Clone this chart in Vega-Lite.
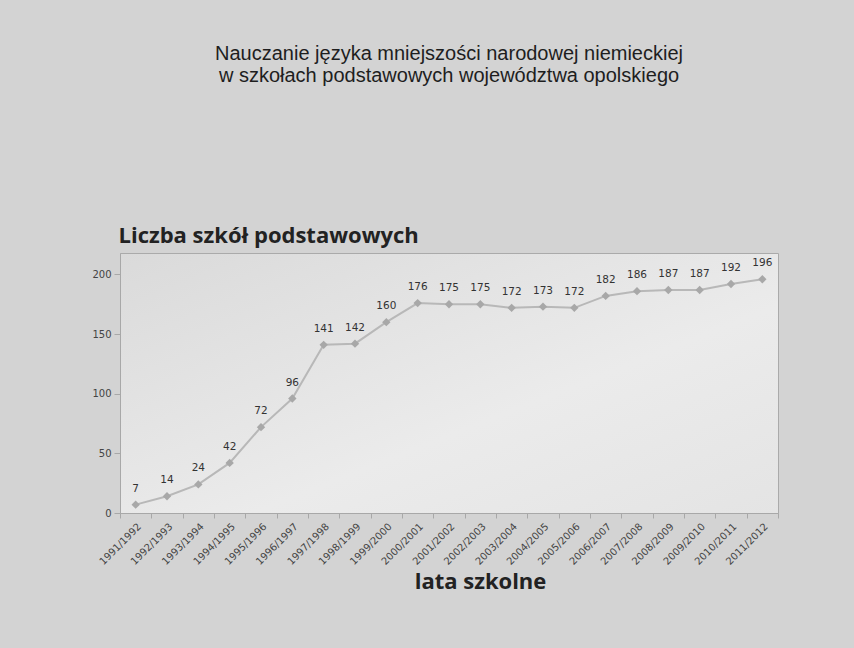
{
  "$schema": "https://vega.github.io/schema/vega-lite/v6.json",
  "autosize": {"type": "none"},
  "width": 658,
  "height": 260,
  "padding": {"left": 120, "top": 253, "right": 76, "bottom": 135},
  "background": "#d3d3d3",
  "title": {
    "text": ["Nauczanie języka mniejszości narodowej niemieckiej", "w szkołach podstawowych województwa opolskiego"],
    "font": "Liberation Sans",
    "fontSize": 20,
    "fontWeight": "normal",
    "color": "#1e1e1e",
    "lineHeight": 22,
    "anchor": "middle",
    "frame": "group",
    "baseline": "top",
    "offset": 138
  },
  "data": {
    "values": [
      {"rok": "1991/1992", "liczba": 7},
      {"rok": "1992/1993", "liczba": 14},
      {"rok": "1993/1994", "liczba": 24},
      {"rok": "1994/1995", "liczba": 42},
      {"rok": "1995/1996", "liczba": 72},
      {"rok": "1996/1997", "liczba": 96},
      {"rok": "1997/1998", "liczba": 141},
      {"rok": "1998/1999", "liczba": 142},
      {"rok": "1999/2000", "liczba": 160},
      {"rok": "2000/2001", "liczba": 176},
      {"rok": "2001/2002", "liczba": 175},
      {"rok": "2002/2003", "liczba": 175},
      {"rok": "2003/2004", "liczba": 172},
      {"rok": "2004/2005", "liczba": 173},
      {"rok": "2005/2006", "liczba": 172},
      {"rok": "2006/2007", "liczba": 182},
      {"rok": "2007/2008", "liczba": 186},
      {"rok": "2008/2009", "liczba": 187},
      {"rok": "2009/2010", "liczba": 187},
      {"rok": "2010/2011", "liczba": 192},
      {"rok": "2011/2012", "liczba": 196}
    ]
  },
  "encoding": {
    "x": {
      "field": "rok",
      "type": "ordinal",
      "sort": null,
      "scale": {"type": "band", "paddingInner": 0, "paddingOuter": 0},
      "axis": {
        "title": "lata szkolne",
        "titleFont": "Open Sans",
        "titleFontSize": 22,
        "titleFontWeight": "bold",
        "titleColor": "#222222",
        "titleX": 360,
        "titleY": 75,
        "titleAnchor": "middle",
        "titleAlign": "center",
        "titleBaseline": "alphabetic",
        "labelAngle": -45,
        "labelFont": "DejaVu Sans",
        "labelFontSize": 10,
        "labelColor": "#444444",
        "labelPadding": 3,
        "tickBand": "extent",
        "tickSize": 5,
        "tickColor": "#a8a8a8",
        "domainColor": "#a8a8a8",
        "grid": false
      }
    },
    "y": {
      "field": "liczba",
      "type": "quantitative",
      "scale": {"domain": [0, 218], "nice": false},
      "axis": {
        "title": "Liczba szkół podstawowych",
        "titleFont": "Open Sans",
        "titleFontSize": 22,
        "titleFontWeight": "bold",
        "titleColor": "#222222",
        "titleAngle": 0,
        "titleAlign": "left",
        "titleAnchor": null,
        "titleBaseline": "alphabetic",
        "titleX": -2,
        "titleY": -11,
        "values": [0, 50, 100, 150, 200],
        "labelFont": "DejaVu Sans",
        "labelFontSize": 10,
        "labelColor": "#444444",
        "labelPadding": 3,
        "tickSize": 6,
        "tickColor": "#a8a8a8",
        "domainColor": "#a8a8a8",
        "grid": false
      }
    }
  },
  "layer": [
    {
      "mark": {"type": "line", "color": "#b8b8b8", "strokeWidth": 2}
    },
    {
      "mark": {"type": "point", "shape": "diamond", "filled": true, "size": 70, "color": "#a8a8a8", "opacity": 1}
    },
    {
      "mark": {"type": "text", "dy": -16, "font": "DejaVu Sans", "fontSize": 10.5, "color": "#333333", "baseline": "middle"},
      "encoding": {"text": {"field": "liczba", "type": "quantitative"}}
    }
  ],
  "config": {
    "view": {
      "stroke": "#aaaaaa",
      "strokeWidth": 1,
      "fill": {
        "gradient": "linear",
        "x1": 0, "y1": 0, "x2": 1, "y2": 1,
        "stops": [
          {"offset": 0, "color": "#dadada"},
          {"offset": 0.6, "color": "#ebebeb"},
          {"offset": 1, "color": "#e4e4e4"}
        ]
      }
    }
  }
}
